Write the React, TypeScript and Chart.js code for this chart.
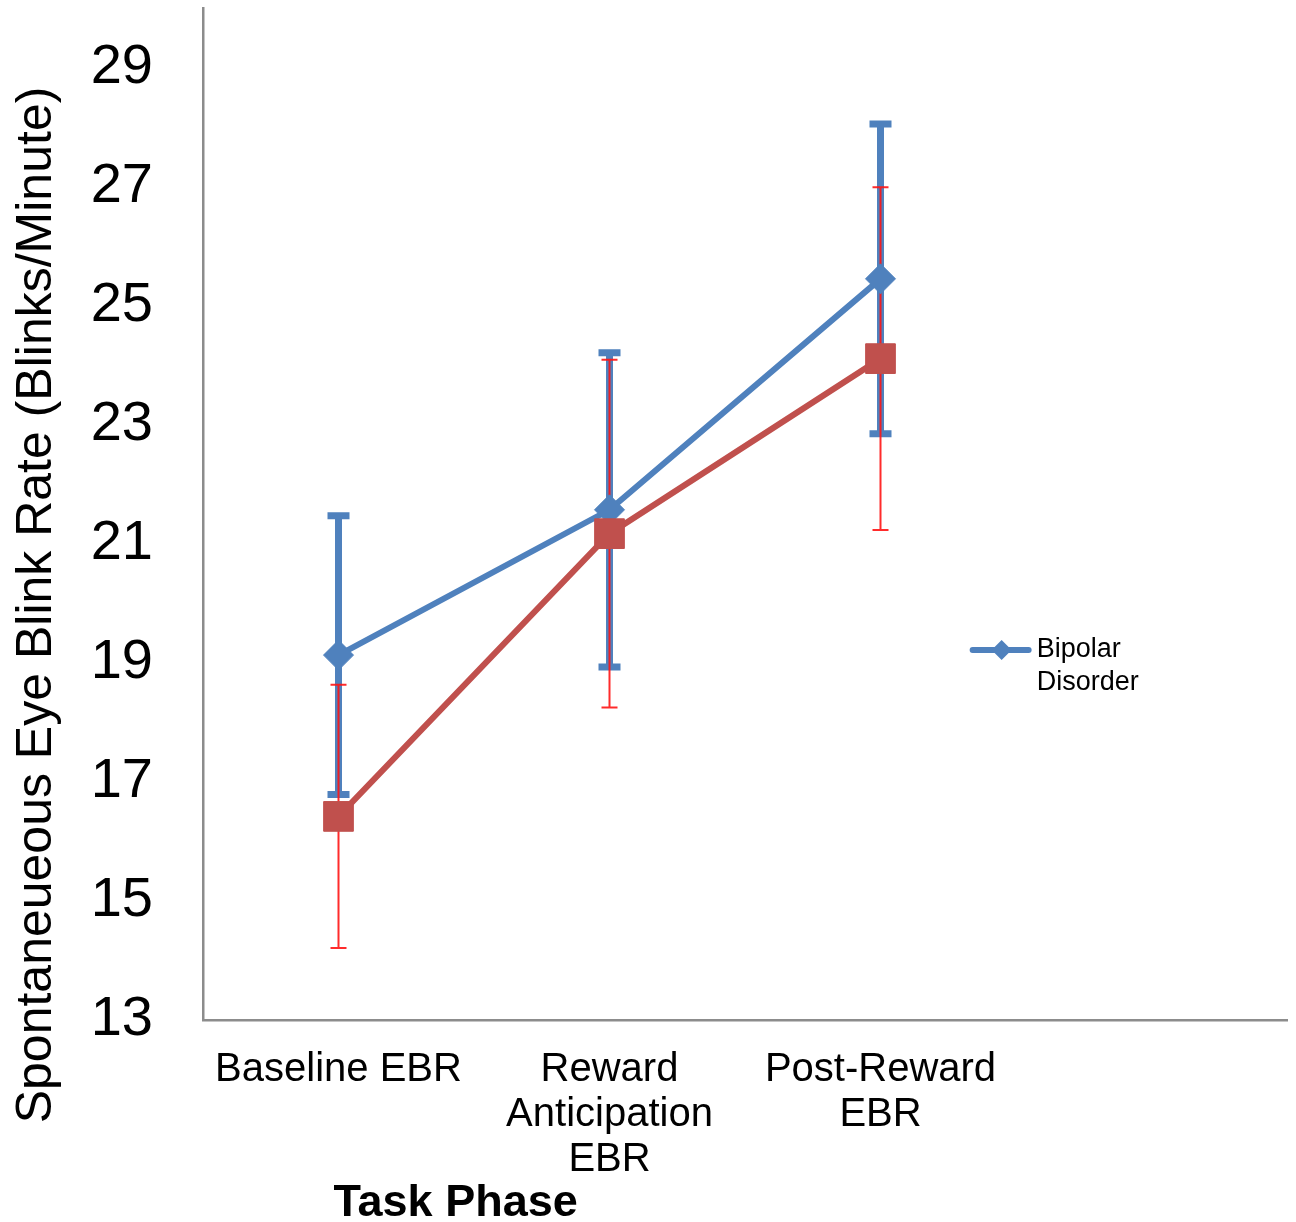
import React, { useEffect, useRef } from 'react';
import { Chart, registerables } from 'chart.js';

Chart.register(...registerables);

// ---- data ----
const categories: (string | string[])[] = [
  'Baseline EBR',
  ['Reward', 'Anticipation', 'EBR'],
  ['Post-Reward', 'EBR'],
  '',
];
const bipolarLabel = 'Bipolar Disorder';
const bipolarMean = [19.13, 21.57, 25.45, null];
const bipolarErr = [2.34, 2.64, 2.6, null];
const controlLabel = 'Healthy Controls';
const controlMean = [16.42, 21.17, 24.11, null];
const controlErr = [2.21, 2.92, 2.88, null];
const yTicks = [13, 15, 17, 19, 21, 23, 25, 27, 29];
const yMin = 13;
const yMax = 30;
const xTitle = 'Task Phase';
const yTitle = 'Spontaneueous Eye Blink Rate (Blinks/Minute)';

const FONT = '"Liberation Sans", Arial, sans-serif';
const BLUE = '#4F81BD';
const RED = '#C0504D';

const errorBarsPlugin = {
  id: 'errorBars',
  beforeDatasetsDraw(chart: any) {
    const { ctx } = chart;
    const x = chart.scales.x;
    const y = chart.scales.y;
    chart.data.datasets.forEach((ds: any) => {
      const errs = ds.errors as (number | null)[];
      const st = ds.errStyle;
      ds.data.forEach((v: number | null, i: number) => {
        const e = errs[i];
        if (v == null || e == null) return;
        const px = x.getPixelForValue(i);
        const top = y.getPixelForValue(v + e);
        const bot = y.getPixelForValue(v - e);
        ctx.save();
        ctx.strokeStyle = st.color;
        ctx.lineWidth = st.width;
        ctx.lineCap = 'butt';
        ctx.beginPath();
        ctx.moveTo(px, top);
        ctx.lineTo(px, bot);
        ctx.moveTo(px - st.cap / 2, top);
        ctx.lineTo(px + st.cap / 2, top);
        ctx.moveTo(px - st.cap / 2, bot);
        ctx.lineTo(px + st.cap / 2, bot);
        ctx.stroke();
        ctx.restore();
      });
    });
  },
};

const decorPlugin = {
  id: 'decor',
  afterDraw(chart: any) {
    const { ctx, chartArea } = chart;
    const w = chartArea.right - chartArea.left;
    ctx.save();
    // x title
    ctx.fillStyle = '#000';
    ctx.font = `bold 45px ${FONT}`;
    ctx.textAlign = 'center';
    ctx.textBaseline = 'alphabetic';
    ctx.fillText(xTitle, chartArea.left + w * 0.233, 1216);
    // y title
    ctx.save();
    ctx.translate(37, 605);
    ctx.rotate(-Math.PI / 2);
    ctx.font = `50px ${FONT}`;
    ctx.textBaseline = 'middle';
    ctx.fillText(yTitle, 0, 0);
    ctx.restore();
    // legend (first dataset only)
    const ds = chart.data.datasets[0];
    const lx = chartArea.left + w * 0.71;
    const ly = 650;
    ctx.strokeStyle = ds.borderColor;
    ctx.lineWidth = 6;
    ctx.lineCap = 'round';
    ctx.beginPath();
    ctx.moveTo(lx, ly);
    ctx.lineTo(lx + 56, ly);
    ctx.stroke();
    ctx.fillStyle = ds.borderColor;
    ctx.beginPath();
    const cx = lx + 29;
    ctx.moveTo(cx - 10, ly);
    ctx.lineTo(cx, ly - 10);
    ctx.lineTo(cx + 10, ly);
    ctx.lineTo(cx, ly + 10);
    ctx.closePath();
    ctx.fill();
    ctx.fillStyle = '#000';
    ctx.font = `27px ${FONT}`;
    ctx.textAlign = 'left';
    ctx.textBaseline = 'middle';
    const parts = String(ds.label).split(' ');
    parts.forEach((p, i) => ctx.fillText(p, lx + 64, ly + i * 33));
    ctx.restore();
  },
};

export default function App() {
  const ref = useRef<HTMLCanvasElement>(null);
  useEffect(() => {
    document.body.style.margin = '0';
    document.body.style.overflow = 'hidden';
    if (!ref.current) return;
    const chart = new Chart(ref.current, {
      type: 'line',
      data: {
        labels: categories as any,
        datasets: [
          {
            label: bipolarLabel,
            data: bipolarMean,
            borderColor: BLUE,
            backgroundColor: BLUE,
            borderWidth: 6,
            pointStyle: 'rectRot',
            pointRadius: 15,
            pointBorderWidth: 1,
            pointBackgroundColor: BLUE,
            pointBorderColor: BLUE,
            tension: 0,
            order: 1,
            errors: bipolarErr,
            errStyle: { color: BLUE, width: 7, cap: 22 },
          } as any,
          {
            label: controlLabel,
            data: controlMean,
            borderColor: RED,
            backgroundColor: RED,
            borderWidth: 6,
            pointStyle: 'rect',
            pointRadius: 21,
            pointBorderWidth: 1,
            pointBackgroundColor: RED,
            pointBorderColor: RED,
            tension: 0,
            order: 0,
            errors: controlErr,
            errStyle: { color: 'rgba(255,20,20,0.9)', width: 2, cap: 16 },
          } as any,
        ],
      },
      options: {
        animation: false,
        responsive: false,
        maintainAspectRatio: false,
        devicePixelRatio: 1,
        layout: { autoPadding: false, padding: { top: 8, right: 9, left: 0, bottom: 0 } },
        plugins: {
          legend: { display: false },
          tooltip: { enabled: false },
          title: { display: false },
        },
        scales: {
          x: {
            type: 'category',
            offset: true,
            grid: { display: false, drawTicks: false },
            border: { display: true, color: '#8c8c8c', width: 2.5 },
            ticks: {
              color: '#000',
              font: { family: FONT, size: 40, lineHeight: 1.125 },
              padding: 27,
              maxRotation: 0,
              minRotation: 0,
              autoSkip: false,
            },
            afterFit(scale: any) {
              scale.height = 202;
              scale.paddingLeft = 0;
              scale.paddingRight = 0;
            },
          },
          y: {
            min: yMin,
            max: yMax,
            grid: { display: false, drawTicks: false },
            border: { display: true, color: '#8c8c8c', width: 2.5 },
            ticks: {
              color: '#000',
              font: { family: FONT, size: 56 },
              padding: 50,
            },
            afterBuildTicks(scale: any) {
              scale.ticks = yTicks.map((v) => ({ value: v }));
            },
            afterFit(scale: any) {
              scale.width = 203;
              scale.paddingTop = 0;
              scale.paddingBottom = 0;
            },
          },
        },
      },
      plugins: [errorBarsPlugin, decorPlugin],
    });
    return () => chart.destroy();
  }, []);
  return (
    <div style={{ position: 'absolute', left: 0, top: 0, width: 1296, height: 1222, overflow: 'hidden' }}>
      <canvas ref={ref} width={1296} height={1222} style={{ display: 'block', width: 1296, height: 1222 }} />
    </div>
  );
}
